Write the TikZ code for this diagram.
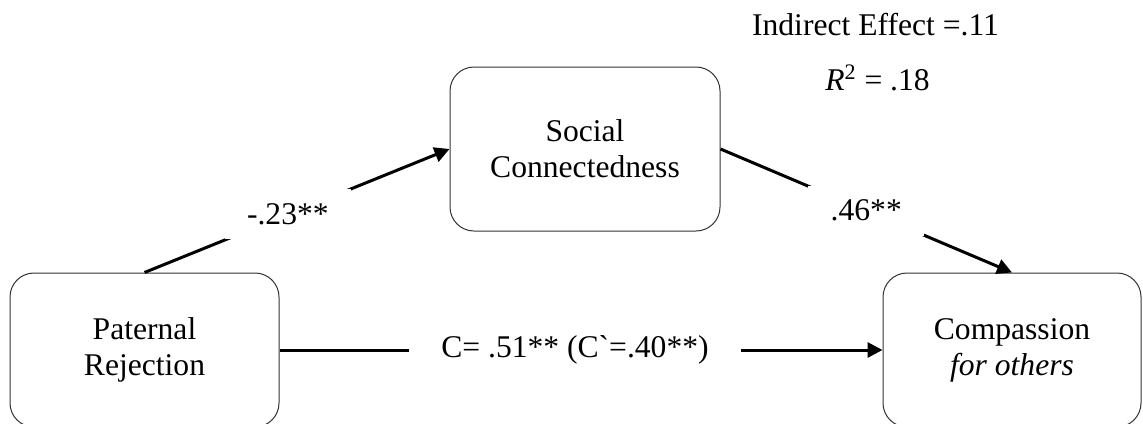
\documentclass[tikz,border=0pt]{standalone}
\usepackage{fontspec}
\setmainfont{Liberation Serif}
\usetikzlibrary{arrows.meta,positioning}

\begin{document}
\begin{tikzpicture}[
  x=0.5pt, y=-0.5pt,
  font=\fontsize{15.8}{18}\selectfont,
  var/.style={draw=black!80, line width=0.5pt, rounded corners=12pt, align=center, minimum width=#1},
  path/.style={line width=1.5pt, -{Triangle[length=7.5pt,width=7.5pt]}},
  coef/.style={fill=white, inner sep=0pt, minimum width=#1, minimum height=25pt}
]
\useasboundingbox (0,0) rectangle (1143,423);
% variables
\node[var=134.5pt, minimum height=77pt] (pat) at (144.5,350) {Paternal\\Rejection};
\node[var=135pt, minimum height=82pt] (soc) at (585,149) {Social\\Connectedness};
\node[var=129pt, minimum height=77pt] (comp) at (1012,350) {Compassion\\\textit{for others}};
% paths
\draw[path] (pat.north) -- node[coef=63pt, pos=0.47] (a) {-.23**} (soc.west);
\draw[path] (soc.east) -- node[coef=58pt] (b) {.46**} (comp.north);
\draw[path] (pat.east) -- node[coef=166pt, pos=0.49] (c) {C= .51** (C\textasciigrave=.40**)} (comp.west);
% indirect effect
\node[anchor=base] (ind) at (875.5,35) {Indirect Effect =.11};
\node[anchor=base] (rsq) at (877.5,90) {\textit{R}\textsuperscript{2} = .18};
\end{tikzpicture}
\end{document}
